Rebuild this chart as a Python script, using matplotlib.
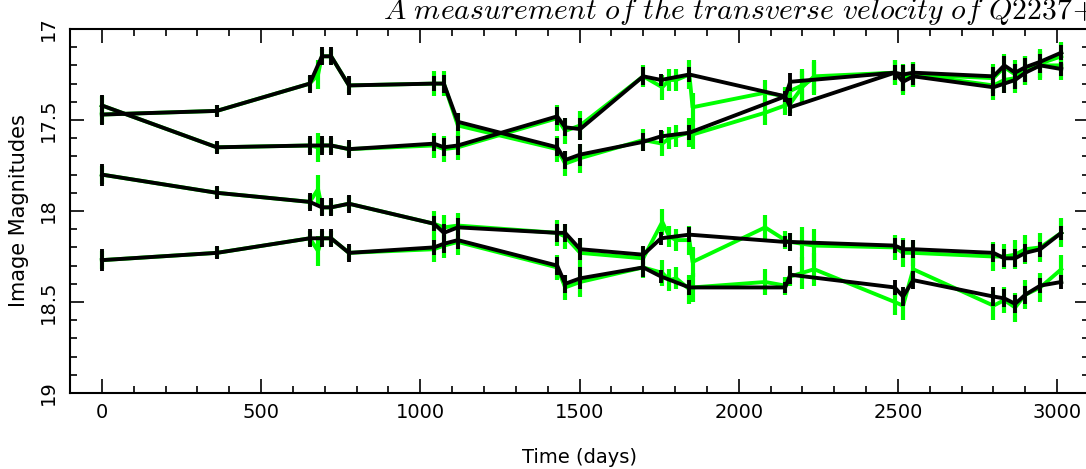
import numpy as np
import matplotlib
matplotlib.use("Agg")
import matplotlib.pyplot as plt
from matplotlib.ticker import MultipleLocator


# --------------------------
# 데이터 (black: model, green: data)
# --------------------------

days = [0, 361, 653, 691, 720, 776, 1043, 1074, 1118, 1430, 1455, 1502, 1700,
        1756, 1845, 2146, 2162, 2490, 2516, 2548, 2800, 2834, 2868, 2900, 2947, 3013]

img1 = [17.47, 17.45, 17.30, 17.15, 17.15, 17.31, 17.30, 17.30, 17.51, 17.65, 17.72, 17.69, 17.62,
        17.59, 17.57, 17.37, 17.29, 17.24, 17.25, 17.24, 17.26, 17.20, 17.24, 17.21, 17.18, 17.13]
img2 = [17.42, 17.65, 17.64, 17.64, 17.64, 17.66, 17.63, 17.65, 17.64, 17.48, 17.54, 17.55, 17.26,
        17.28, 17.25, 17.37, 17.43, 17.24, 17.29, 17.26, 17.32, 17.30, 17.28, 17.24, 17.20, 17.22]
img3 = [17.80, 17.90, 17.95, 17.98, 17.98, 17.96, 18.07, 18.12, 18.09, 18.12, 18.12, 18.21, 18.24,
        18.15, 18.13, 18.17, 18.17, 18.19, 18.21, 18.21, 18.23, 18.26, 18.26, 18.23, 18.21, 18.12]
img4 = [18.27, 18.23, 18.15, 18.15, 18.15, 18.23, 18.20, 18.18, 18.16, 18.30, 18.40, 18.37, 18.31,
        18.36, 18.42, 18.42, 18.35, 18.42, 18.47, 18.38, 18.47, 18.48, 18.51, 18.46, 18.41, 18.39]
err = [0.06, 0.035, 0.05, 0.05, 0.05, 0.05, 0.04, 0.05, 0.05, 0.05, 0.05, 0.06, 0.05,
       0.035, 0.04, 0.03, 0.05, 0.04, 0.05, 0.05, 0.05, 0.05, 0.05, 0.05, 0.04, 0.04]

gdays = [0, 361, 653, 679, 691, 720, 776, 1043, 1074, 1118, 1430, 1455, 1502, 1700, 1760, 1782, 1804,
         1845, 1855, 2083, 2146, 2162, 2199, 2237, 2490, 2516, 2548, 2800, 2834, 2868, 2900, 2947, 3013]

g1 = [17.47, 17.45, 17.30, 17.25, 17.15, 17.15, 17.31, 17.30, 17.30, 17.53, 17.66, 17.74, 17.71, 17.61, 17.63, 17.60, 17.59,
      17.57, 17.58, 17.46, 17.42, 17.41, 17.32, 17.26, 17.24, 17.27, 17.25, 17.27, 17.21, 17.25, 17.23, 17.19, 17.15]
g2 = [17.42, 17.65, 17.64, 17.65, 17.64, 17.64, 17.66, 17.64, 17.66, 17.65, 17.49, 17.56, 17.53, 17.26, 17.32, 17.28, 17.28,
      17.25, 17.43, 17.35, 17.37, 17.34, 17.31, 17.27, 17.24, 17.28, 17.25, 17.31, 17.28, 17.27, 17.23, 17.20, 17.20]
g3 = [17.80, 17.90, 17.95, 17.88, 17.98, 17.98, 17.96, 18.07, 18.09, 18.08, 18.12, 18.14, 18.23, 18.26, 18.06, 18.14, 18.16,
      18.16, 18.28, 18.09, 18.16, 18.17, 18.18, 18.19, 18.20, 18.23, 18.23, 18.25, 18.25, 18.24, 18.21, 18.20, 18.12]
g4 = [18.27, 18.23, 18.15, 18.22, 18.15, 18.15, 18.23, 18.21, 18.19, 18.17, 18.31, 18.42, 18.39, 18.31, 18.34, 18.38, 18.37,
      18.43, 18.42, 18.39, 18.41, 18.36, 18.34, 18.32, 18.50, 18.52, 18.32, 18.52, 18.49, 18.53, 18.46, 18.42, 18.32]
gerr = [0.05, 0.03, 0.04, 0.08, 0.04, 0.04, 0.04, 0.07, 0.07, 0.07, 0.07, 0.07, 0.08, 0.06, 0.07, 0.06, 0.06,
        0.08, 0.08, 0.07, 0.05, 0.05, 0.09, 0.09, 0.07, 0.08, 0.07, 0.08, 0.07, 0.08, 0.08, 0.08, 0.08]

title = r"$A\ measurement\ of\ the\ transverse\ velocity\ of\ Q2237\!+\!0305$"


# --------------------------
# 그래프
# --------------------------

plt.rcParams["mathtext.fontset"] = "cm"
plt.rcParams["font.family"] = "DejaVu Sans"

fig = plt.figure(figsize=(10.86, 4.69), dpi=100)
ax = fig.add_axes([70 / 1086, 76 / 469, 1019 / 1086, 364 / 469])

for g in [g1, g2, g3, g4]:
    ax.errorbar(gdays, g, yerr=gerr, color="#00ff00", lw=2.8, elinewidth=3, capsize=0, zorder=2)

for s in [img1, img2, img3, img4]:
    ax.errorbar(days, s, yerr=err, color="black", lw=2.8, elinewidth=2.8, capsize=0, zorder=3)

ax.set_xlim(-100, 3100)
ax.set_ylim(19, 17)

ax.xaxis.set_major_locator(MultipleLocator(500))
ax.xaxis.set_minor_locator(MultipleLocator(100))
ax.yaxis.set_major_locator(MultipleLocator(0.5))
ax.yaxis.set_minor_locator(MultipleLocator(0.1))
ax.yaxis.set_major_formatter(matplotlib.ticker.FuncFormatter(lambda v, p: f"{v:g}"))

ax.tick_params(which="both", direction="in", top=True, right=True, width=1.2, labelsize=14)
ax.tick_params(which="major", length=10)
ax.tick_params(which="minor", length=5)
ax.tick_params(axis="x", pad=7)
ax.tick_params(axis="y", labelrotation=90, pad=9)
for lab in ax.get_yticklabels():
    lab.set_va("center")

for sp in ax.spines.values():
    sp.set_linewidth(1.5)

ax.set_xlabel("Time (days)", fontsize=14)
ax.set_ylabel("Image Magnitudes", fontsize=15)
ax.xaxis.set_label_coords(0.5, -0.15)
ax.yaxis.set_label_coords(-0.04, 0.5)

fig.text(383 / 1086, 1 - 19 / 469, title, fontsize=21.4, ha="left", va="baseline")

fig.savefig("out.png", dpi=100)
